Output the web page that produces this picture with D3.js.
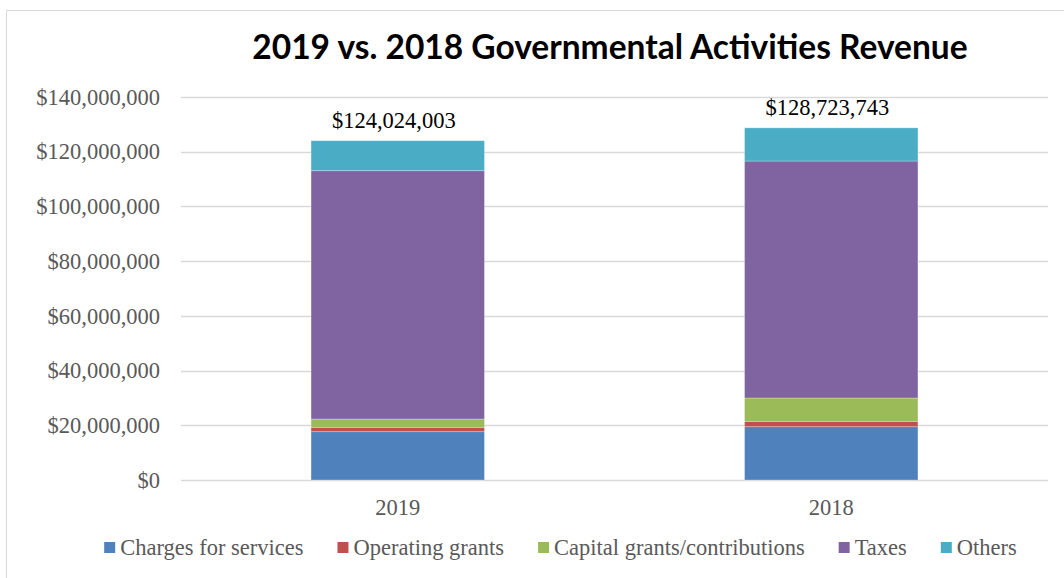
<!DOCTYPE html>
<html>
<head>
<meta charset="utf-8">
<script src="https://cdn.jsdelivr.net/npm/d3@7"></script>
<style>
  html, body { margin: 0; padding: 0; background: #ffffff; }
  svg { display: block; }
</style>
</head>
<body>
<svg id="chart" width="1064" height="578"></svg>
<script>
// Revenue sources and fiscal years
const years = ["2019", "2018"];
const sources = ["Charges for services", "Operating grants", "Capital grants/contributions", "Taxes", "Others"];
const colors = ["#4f81bd", "#c0504d", "#9bbb59", "#8064a2", "#4bacc6"];

// Amounts per source, one array per year (same order as `years`)
const chargesForServices = [17660000, 19480000];
const operatingGrants    = [1600000, 1970000];
const capitalGrants      = [3030000, 8520000];
const taxes              = [90770000, 86630000];
const others             = [10964003, 12123743];

// Totals printed above each bar
const totals = [124024003, 128723743];
const yTicks = [0, 20000000, 40000000, 60000000, 80000000, 100000000, 120000000, 140000000];

const seriesValues = [chargesForServices, operatingGrants, capitalGrants, taxes, others];

const rows = years.map((y, i) => {
  const r = { year: y };
  sources.forEach((s, k) => { r[s] = seriesValues[k][i]; });
  return r;
});

const svg = d3.select("#chart");
const W = 1064, H = 578;
const plot = { left: 181, right: 1048, top: 97, bottom: 480 };
const serif = "'Liberation Serif', 'Times New Roman', serif";
const textSize = 22.5;

// Outer chart frame
svg.append("rect")
  .attr("x", 6.5).attr("y", 10.5)
  .attr("width", W + 10).attr("height", H + 10)
  .attr("fill", "#ffffff").attr("stroke", "#d9d9d9").attr("stroke-width", 1);

// Title
svg.append("text")
  .attr("x", 610).attr("y", 59)
  .attr("text-anchor", "middle")
  .attr("font-family", "Lato, 'Open Sans', sans-serif")
  .attr("font-weight", "bold")
  .attr("font-size", 33.5)
  .attr("fill", "#000000")
  .text("2019 vs. 2018 Governmental Activities Revenue");

const x = d3.scaleBand()
  .domain(years)
  .range([plot.left, plot.right])
  .paddingInner(0.6)
  .paddingOuter(0.3);

const y = d3.scaleLinear()
  .domain([0, 140000000])
  .range([plot.bottom, plot.top]);

const money = d3.format("$,.0f");

// Horizontal gridlines
svg.append("g")
  .selectAll("line")
  .data(yTicks)
  .join("line")
  .attr("x1", plot.left).attr("x2", plot.right)
  .attr("y1", d => Math.round(y(d)) + 0.5)
  .attr("y2", d => Math.round(y(d)) + 0.5)
  .attr("stroke", "#d9d9d9").attr("stroke-width", 1.3);

// Y axis labels
const yAxis = d3.axisLeft(y).tickValues(yTicks).tickFormat(money).tickSize(0).tickPadding(0);
const gy = svg.append("g").attr("transform", `translate(${plot.left - 21},0)`).call(yAxis);
gy.select(".domain").remove();
gy.selectAll("text")
  .attr("font-family", serif)
  .attr("font-size", textSize)
  .attr("fill", "#595959");

// X axis labels
const xAxis = d3.axisBottom(x).tickSize(0).tickPadding(0);
const gx = svg.append("g").attr("transform", `translate(0,${plot.bottom + 19})`).call(xAxis);
gx.select(".domain").remove();
gx.selectAll("text")
  .attr("font-family", serif)
  .attr("font-size", textSize)
  .attr("fill", "#595959");

// Stacked bars
const stack = d3.stack().keys(sources)(rows);
svg.append("g")
  .selectAll("g")
  .data(stack)
  .join("g")
  .attr("fill", (d, i) => colors[i])
  .selectAll("rect")
  .data(d => d)
  .join("rect")
  .attr("x", d => x(d.data.year))
  .attr("width", x.bandwidth())
  .attr("y", d => y(d[1]))
  .attr("height", d => y(d[0]) - y(d[1]))
  .attr("stroke", "rgba(255,255,255,0.35)")
  .attr("stroke-width", 0.8);

// Total labels above bars
svg.append("g")
  .selectAll("text")
  .data(years)
  .join("text")
  .attr("x", d => x(d) + x.bandwidth() / 2 - 4)
  .attr("y", (d, i) => y(totals[i]) - 13)
  .attr("text-anchor", "middle")
  .attr("font-family", serif)
  .attr("font-size", textSize)
  .attr("fill", "#000000")
  .text((d, i) => money(totals[i]));

// Legend
const legend = svg.append("g").attr("transform", "translate(0,555)");
const items = legend.selectAll("g").data(sources).join("g");
items.append("rect")
  .attr("width", 11).attr("height", 11)
  .attr("y", -13)
  .attr("fill", (d, i) => colors[i]);
items.append("text")
  .attr("x", 16).attr("y", 0)
  .attr("font-family", serif)
  .attr("font-size", textSize)
  .attr("fill", "#595959")
  .text(d => d);

const gap = 34;
const widths = [];
items.each(function () {
  widths.push(16 + d3.select(this).select("text").node().getComputedTextLength());
});
const totalW = d3.sum(widths) + gap * (widths.length - 1);
let cx = 560.5 - totalW / 2;
items.attr("transform", (d, i) => {
  const t = `translate(${cx},0)`;
  cx += widths[i] + gap;
  return t;
});
</script>
</body>
</html>
